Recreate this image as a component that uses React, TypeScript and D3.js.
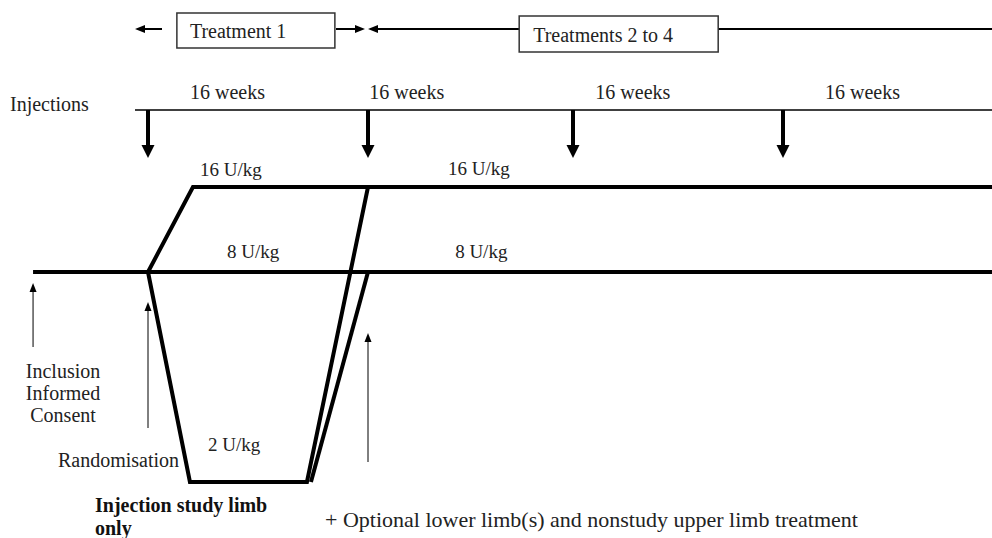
import * as d3 from "d3";

// study timeline (weeks) and dose levels (U/kg)
const injectionWeeks = [0, 16, 32, 48];
const intervalLabels = ["16 weeks", "16 weeks", "16 weeks", "16 weeks"];
const intervalLabelWeeks = [3.05, 16.1, 33.7, 51.2];
const endWeek = 64;
const inclusionWeek = -8.36;

const doseLevels = [16, 8, 2];

const periods = [
  { label: "Treatment 1", start: 0, end: 16, boxWeek: 2.1 },
  { label: "Treatments 2 to 4", start: 16, end: endWeek, boxWeek: 27.8 },
];

// dose pathways: [week, dose]
const armPaths: [number, number][][] = [
  [[inclusionWeek, 8], [endWeek, 8]],
  [[0, 8], [3.27, 16], [endWeek, 16]],
  [[0, 8], [3.05, 2], [11.56, 2], [16, 16]],
  [[11.85, 2], [16, 8]],
];

const doseLabels = [
  { text: "16 U/kg", week: 3.78, dose: 16 },
  { text: "16 U/kg", week: 22.24, dose: 16 },
  { text: "8 U/kg", week: 5.75, dose: 8 },
  { text: "8 U/kg", week: 22.8, dose: 8 },
  { text: "2 U/kg", week: 4.36, dose: 2 },
];
// vertical offset of each dose label above its line (px)
const doseLabelDy = [11, 12, 14, 14, 31];

const milestones = [
  { week: inclusionWeek, lines: ["Inclusion", "Informed", "Consent"] },
  { week: 0, lines: ["Randomisation"] },
  { week: 16, lines: [] as string[] },
];

const W = 992;
const H = 538;
const FONT = "'Liberation Serif', 'Times New Roman', serif";
const FS = 20;

export default function App() {
  const x = d3.scaleLinear().domain(injectionWeeks).range([148, 368, 573, 783]);
  const y = d3.scaleLinear().domain(doseLevels).range([187, 272, 482]);

  const line = d3
    .line<[number, number]>()
    .x((d) => x(d[0]))
    .y((d) => y(d[1]));

  const topY = 29;
  const injY = 110;

  const downArrow = (cx: number) => (
    <g key={"d" + cx}>
      <line x1={cx} x2={cx} y1={injY} y2={147} stroke="#000" strokeWidth={4} />
      <polygon points={`${cx - 6.5},145 ${cx + 6.5},145 ${cx},158`} fill="#000" />
    </g>
  );

  const upArrow = (cx: number, tip: number, bottom: number, key: string) => (
    <g key={key}>
      <line x1={cx} x2={cx} y1={tip + 6} y2={bottom} stroke="#000" strokeWidth={1} />
      <polygon points={`${cx - 3.5},${tip + 9} ${cx + 3.5},${tip + 9} ${cx},${tip}`} fill="#000" />
    </g>
  );

  const msTips = [283, 302, 333];
  const msBottoms = [347, 428, 462];

  const t1 = periods[0];
  const t2 = periods[1];
  const t1Left = x(t1.start) - 13;
  const t1Right = x(t1.end) - 3;
  const t2Left = x(t2.start);

  return (
    <>
      <style>{"body{margin:0}"}</style>
      <svg width={W} height={H} style={{ display: "block", background: "#fff" }} fontFamily={FONT} fontSize={FS}>
        {/* treatment periods */}
        <line x1={t1Left + 8} x2={x(t1.start) + 14} y1={topY} y2={topY} stroke="#000" strokeWidth={2} />
        <polygon points={`${t1Left},${topY} ${t1Left + 10},${topY - 4} ${t1Left + 10},${topY + 4}`} fill="#000" />
        <line x1={x(t1.end) - 32} x2={t1Right - 6} y1={topY} y2={topY} stroke="#000" strokeWidth={2} />
        <polygon points={`${t1Right},${topY} ${t1Right - 10},${topY - 4} ${t1Right - 10},${topY + 4}`} fill="#000" />
        <line x1={t2Left + 6} x2={x(t2.end)} y1={topY} y2={topY} stroke="#000" strokeWidth={2} />
        <polygon points={`${t2Left},${topY} ${t2Left + 10},${topY - 4} ${t2Left + 10},${topY + 4}`} fill="#000" />

        <rect x={x(t1.boxWeek)} y={13} width={158} height={35} fill="#fff" stroke="#333" strokeWidth={1.5} />
        <text x={x(t1.boxWeek) + 13} y={38} fill="#222">{t1.label}</text>
        <rect x={x(t2.boxWeek)} y={16} width={199} height={36} fill="#fff" stroke="#333" strokeWidth={1.5} />
        <text x={x(t2.boxWeek) + 14} y={42} fill="#222">{t2.label}</text>

        {/* injections */}
        <text x={10} y={111} fill="#222">Injections</text>
        <line x1={135} x2={W} y1={injY} y2={injY} stroke="#000" strokeWidth={1.5} />
        {intervalLabels.map((l, i) => (
          <text key={"w" + i} x={x(intervalLabelWeeks[i])} y={99} fill="#222">{l}</text>
        ))}
        {injectionWeeks.map((w) => downArrow(x(w)))}

        {/* dose pathways */}
        {armPaths.map((p, i) => (
          <path key={"a" + i} d={line(p) ?? ""} fill="none" stroke="#000" strokeWidth={4} strokeLinejoin="miter" />
        ))}
        {doseLabels.map((d, i) => (
          <text key={"l" + i} x={x(d.week)} y={y(d.dose) - doseLabelDy[i]} fontSize={19} fill="#222">{d.text}</text>
        ))}

        {/* milestones */}
        {milestones.map((m, i) => upArrow(x(m.week), msTips[i], msBottoms[i], "m" + i))}
        {milestones[0].lines.map((t, i) => (
          <text key={"inc" + i} x={x(inclusionWeek) + 30} y={378 + i * 22} textAnchor="middle" fill="#222">{t}</text>
        ))}
        <text x={58} y={467} fill="#222">{milestones[1].lines[0]}</text>

        <text x={95} y={512} fontWeight="bold" fill="#111">Injection study limb</text>
        <text x={95} y={535} fontWeight="bold" fill="#111">only</text>
        <text x={325} y={527} fontSize={22} fill="#222">+ Optional lower limb(s) and nonstudy upper limb treatment</text>
      </svg>
    </>
  );
}
